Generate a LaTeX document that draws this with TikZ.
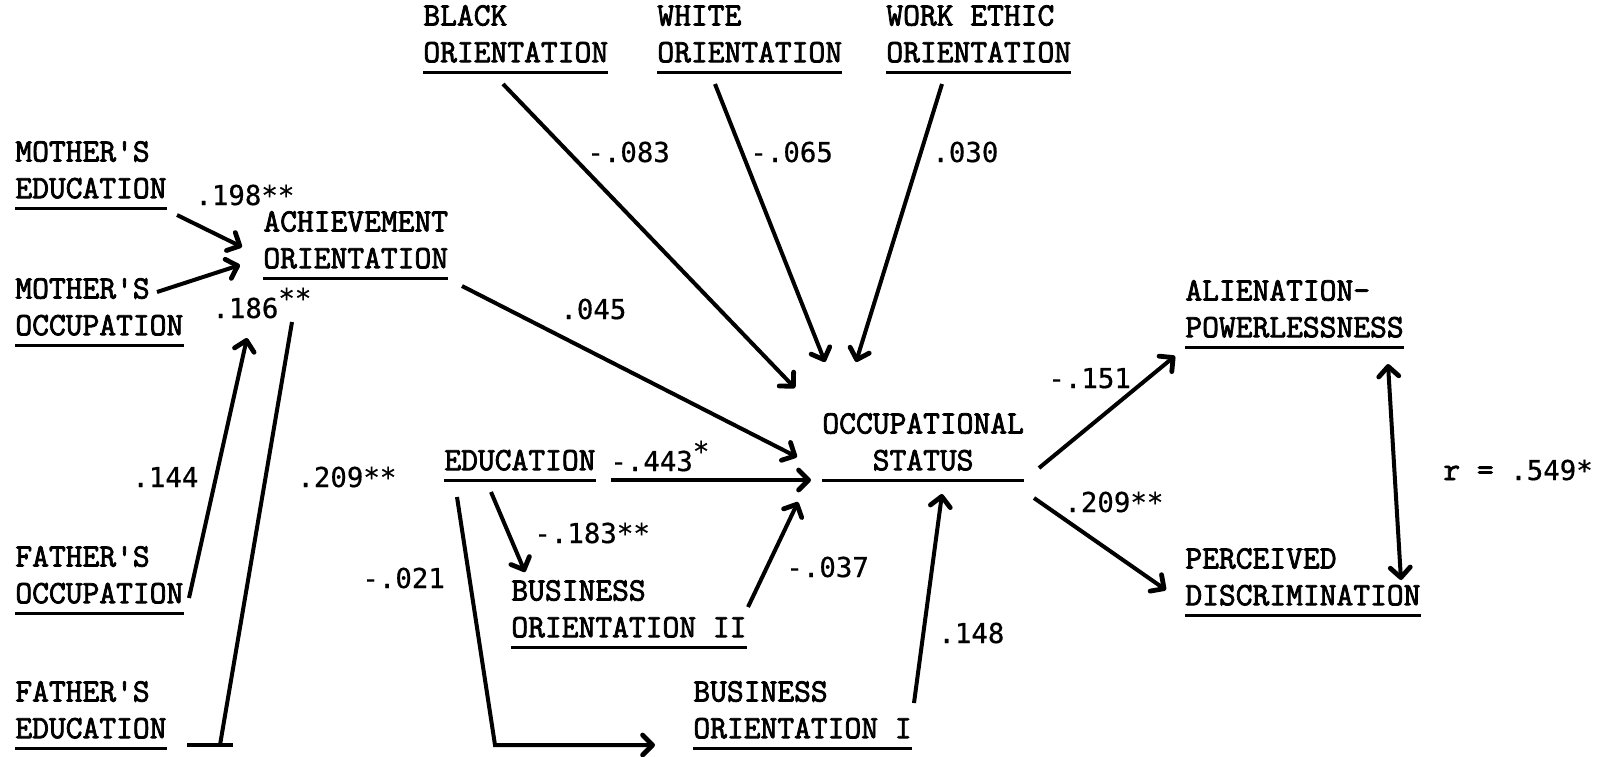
\documentclass[tikz,border=0pt]{standalone}
\usepackage{fontspec}
\usetikzlibrary{arrows.meta}
\newfontfamily\numfont[FakeBold=0.6]{DejaVu Sans Mono}
\newfontfamily\lblfont[FakeBold=2.4]{Latin Modern Mono}
\newcommand{\upstar}[1]{\raisebox{5pt}{#1}}

\tikzset{
  var/.style={font=\lblfont\fontsize{16.3}{18.35}\selectfont,
              inner sep=0pt, anchor=south west, align=left},
  coef/.style={font=\numfont\fontsize{13.7}{16}\selectfont,
               inner sep=0pt, anchor=base west},
  uline/.style={line width=1.6pt},
  barb/.tip={Straight Barb[length=5pt,width=10pt,line width=2.4pt,round]},
  link/.style={line width=2pt, -barb},
  plain/.style={line width=2pt},
  both/.style={line width=2pt, barb-barb},
}

\begin{document}
\begin{tikzpicture}[x=0.5pt,y=-0.5pt]
\useasboundingbox (0,0) rectangle (1602,756);

% ---- variables ----
\node[var] (blk)  at (423,63)  {BLACK\\ORIENTATION};
\node[var] (wht)  at (657,63)  {WHITE\\ORIENTATION};
\node[var] (wrk)  at (886,63)  {WORK ETHIC\\ORIENTATION};
\node[var] (medu) at (15,199)  {MOTHER'S\\EDUCATION};
\node[var] (ach)  at (263,269) {ACHIEVEMENT\\ORIENTATION};
\node[var] (mocc) at (15,336)  {MOTHER'S\\OCCUPATION};
\node[var] (focc) at (15,604)  {FATHER'S\\OCCUPATION};
\node[var] (fedu) at (15,739)  {FATHER'S\\EDUCATION};
\node[var] (edu)  at (444,471) {EDUCATION};
\node[var, align=center] (occ) at (822,471) {OCCUPATIONAL\\STATUS};
\node[var] (bo2)  at (511,638) {BUSINESS\\ORIENTATION II};
\node[var] (bo1)  at (693,739) {BUSINESS\\ORIENTATION I};
\node[var] (ali)  at (1185,338) {ALIENATION-\\POWERLESSNESS};
\node[var] (per)  at (1185,606) {PERCEIVED\\DISCRIMINATION};

\foreach \n in {blk,wht,wrk,medu,ach,mocc,focc,fedu,edu,occ,bo2,bo1,ali,per}
  \draw[uline] ([yshift=-4.8pt]\n.south west) -- ([yshift=-4.8pt]\n.south east);

% ---- connector end points ----
\coordinate (blk-o) at (503,84);   \coordinate (blk-i) at (795,388);
\coordinate (wht-o) at (715,84);   \coordinate (wht-i) at (825,362);
\coordinate (wrk-o) at (942,84);   \coordinate (wrk-i) at (856,362);
\coordinate (medu-o) at (177,215); \coordinate (ach-i1) at (242,247);
\coordinate (mocc-o) at (157,292); \coordinate (ach-i2) at (240,265);
\coordinate (focc-o) at (189,598); \coordinate (ach-i3) at (247,338);
\coordinate (fedu-a) at (187,745); \coordinate (fedu-b) at (233,745);
\coordinate (fedu-o) at (220,745); \coordinate (fedu-e) at (292,322);
\coordinate (ach-o) at (462,286);  \coordinate (occ-i1) at (797,457);
\coordinate (edu-o1) at (611,480); \coordinate (occ-i2) at (811,480);
\coordinate (edu-o2) at (491,492); \coordinate (bo2-i) at (525,572);
\coordinate (edu-o3) at (457,497); \coordinate (bend) at (495,745);
\coordinate (bo1-i) at (655,745);
\coordinate (bo2-o) at (748,607);  \coordinate (occ-i3) at (798,502);
\coordinate (bo1-o) at (914,703);  \coordinate (occ-i4) at (942,494);
\coordinate (occ-o1) at (1039,468); \coordinate (ali-i) at (1175,356);
\coordinate (occ-o2) at (1034,498); \coordinate (per-i) at (1166,590);
\coordinate (ali-c) at (1388,364); \coordinate (per-c) at (1401,580);

% ---- paths ----
\draw[link] (blk-o) -- (blk-i);
\draw[link] (wht-o) -- (wht-i);
\draw[link] (wrk-o) -- (wrk-i);
\draw[link] (medu-o) -- (ach-i1);
\draw[link] (mocc-o) -- (ach-i2);
\draw[link] (focc-o) -- (ach-i3);
\draw[plain] (fedu-a) -- (fedu-b);
\draw[plain] (fedu-o) -- (fedu-e);
\draw[link] (ach-o) -- (occ-i1);
\draw[link] (edu-o1) -- (occ-i2);
\draw[link] (edu-o2) -- (bo2-i);
\draw[link] (edu-o3) -- (bend) -- (bo1-i);
\draw[link] (bo2-o) -- (occ-i3);
\draw[link] (bo1-o) -- (occ-i4);
\draw[link] (occ-o1) -- (ali-i);
\draw[link] (occ-o2) -- (per-i);
\draw[both] (ali-c) -- (per-c);

% ---- coefficients ----
\node[coef] (c1)  at (587,162)  {-.083};
\node[coef] (c2)  at (750,162)  {-.065};
\node[coef] (c3)  at (932,162)  {.030};
\node[coef] (c4)  at (195,205)  {.198**};
\node[coef] (c5)  at (212,318)  {.186\upstar{**}};
\node[coef] (c6)  at (132,487)  {.144};
\node[coef] (c7)  at (297,487)  {.209**};
\node[coef] (c8)  at (560,319)  {.045};
\node[coef] (c9)  at (610,471)  {-.443\upstar{*}};
\node[coef] (c10) at (534,543)  {-.183**};
\node[coef] (c11) at (362,588)  {-.021};
\node[coef] (c12) at (786,577)  {-.037};
\node[coef] (c13) at (938,643)  {.148};
\node[coef] (c14) at (1048,388) {-.151};
\node[coef] (c15) at (1064,512) {.209**};
\node[coef] (c16) at (1443,480) {{\lblfont\fontsize{16.3}{18}\selectfont r =} .549*};
\end{tikzpicture}
\end{document}
